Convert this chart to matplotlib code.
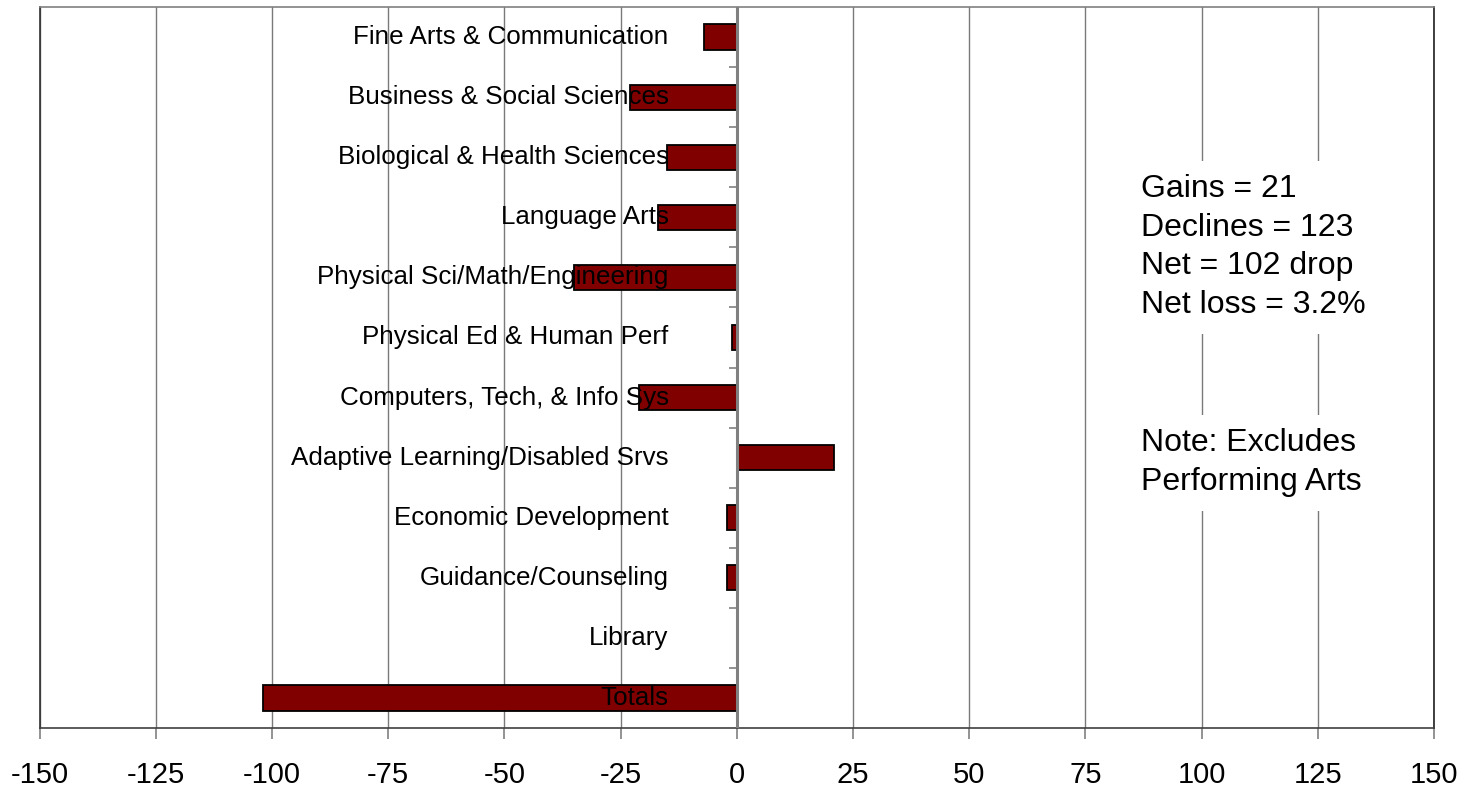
import numpy as np
import matplotlib
matplotlib.use("Agg")
import matplotlib.pyplot as plt

plt.rcParams["font.family"] = ["Liberation Sans", "DejaVu Sans"]

# ---------------------------------------------------------------- data
departments = [
    "Fine Arts & Communication",
    "Business & Social Sciences",
    "Biological & Health Sciences",
    "Language Arts",
    "Physical Sci/Math/Engineering",
    "Physical Ed & Human Perf",
    "Computers, Tech, & Info Sys",
    "Adaptive Learning/Disabled Srvs",
    "Economic Development",
    "Guidance/Counseling",
    "Library",
    "Totals",
]
changes = [-7, -23, -15, -17, -35, -1, -21, 21, -2, -2, 0, -102]
x_ticks = list(range(-150, 151, 25))

summary = "Gains = 21\nDeclines = 123\nNet = 102 drop\nNet loss = 3.2%"
note = "Note: Excludes\nPerforming Arts"

# ---------------------------------------------------------------- figure
W, H = 1463.0, 798.0
fig = plt.figure(figsize=(W / 100, H / 100), dpi=100)
ax = fig.add_axes([39.5 / W, (H - 728) / H, 1394.5 / W, 721 / H])

y = np.arange(len(departments))
ax.barh(y, changes, height=0.42, color="#800000", edgecolor="black",
        linewidth=1.3, zorder=2)

ax.set_xlim(-150, 150)
ax.set_ylim(len(departments) - 0.5, -0.5)
ax.set_xticks(x_ticks)
ax.set_xticklabels([str(v) for v in x_ticks])
ax.set_yticks([])
ax.set_axisbelow(True)
ax.grid(axis="x", color="#7a7a7a", lw=1.0)
ax.tick_params(axis="x", direction="out", length=8, width=1.2,
               color="#808080", labelsize=21, pad=16)

ax.spines["top"].set_color("#808080")
ax.spines["left"].set_color("#303030")
ax.spines["right"].set_color("#202020")
ax.spines["bottom"].set_color("#404040")
for s in ax.spines.values():
    s.set_linewidth(1.2)

# vertical category axis sitting at x = 0, ticks between categories
ax.axvline(0, color="#808080", lw=2.2, zorder=3)
sec = ax.secondary_yaxis(0.5)
sec.set_yticks(np.arange(0.5, len(departments) - 0.5, 1))
sec.set_yticklabels([])
sec.yaxis.set_ticks_position("left")
sec.tick_params(axis="y", direction="out", length=6, width=1.2,
                color="#808080", labelleft=False, labelright=False)
for s in sec.spines.values():
    s.set_visible(False)

# category labels, drawn on top of the bars
for i, name in enumerate(departments):
    ax.annotate(name, xy=(0, i), xytext=(-49, 0), textcoords="offset points",
                ha="right", va="center", fontsize=18.7, zorder=5)

# notes on the right, white box hides the gridlines behind them
ax.text(0.79, 0.667, summary, transform=ax.transAxes, ha="left", va="center",
        fontsize=23, linespacing=1.37, zorder=5,
        bbox=dict(fc="white", ec="none", pad=10))
ax.text(0.79, 0.368, note, transform=ax.transAxes, ha="left", va="center",
        fontsize=23, linespacing=1.37, zorder=5,
        bbox=dict(fc="white", ec="none", pad=10))

fig.savefig("out.png", dpi=100, facecolor="white")
